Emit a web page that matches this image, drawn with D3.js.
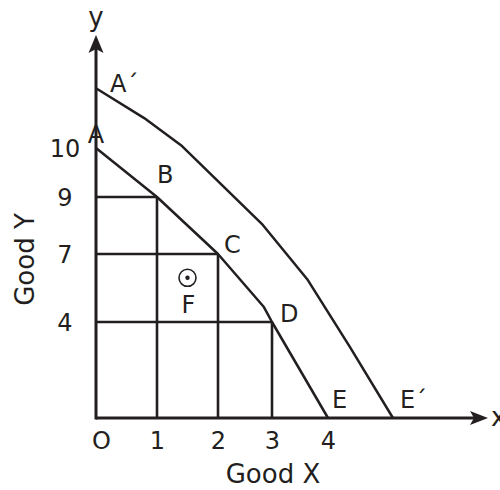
<!DOCTYPE html>
<html>
<head>
<meta charset="utf-8">
<script src="https://cdn.jsdelivr.net/npm/d3@7"></script>
<style>
  body { margin: 0; background: #fff; }
  svg { display: block; }
  text { font-family: "DejaVu Sans", sans-serif; fill: #231f20; }
</style>
</head>
<body>
<div id="chart"></div>
<script>
// ---- data ----
const xTicks = [0, 1, 2, 3, 4];
const xTickLabels = ["O", "1", "2", "3", "4"];
const yTicks = [4, 7, 9, 10];
const yTickLabels = ["4", "7", "9", "10"];

// labelled points on the original frontier
const ppfNames = ["A", "B", "C", "D", "E"];
const ppfX = [0, 1, 2, 3, 4];
const ppfY = [10, 9, 7, 4, 0];

// traced shape of the original frontier (incl. the bend between C and D)
const innerCurveX = [0, 1, 2, 2.85, 3, 4];
const innerCurveY = [10, 9, 7, 4.66, 4, 0];

// traced shape of the shifted frontier A'..E'
const outerCurveX = [0, 0.79, 1.41, 2.83, 3.64, 4.39, 5.16];
const outerCurveY = [11.22, 10.61, 10.04, 8.02, 5.85, 2.96, 0];
const outerNames = ["A\u00B4", "E\u00B4"];

// inefficient point F
const pointF = { name: "F", x: 1.5, y: 5.95 };

// ---- layout ----
const W = 500, H = 490;
const ink = "#231f20";

const svg = d3.select("#chart").append("svg")
  .attr("width", W).attr("height", H);

// schematic (piecewise) scales, as in the original drawing
const x = d3.scaleLinear().domain([0, 1, 2, 3, 4]).range([96, 157, 218, 272, 328]);
const y = d3.scaleLinear().domain([0, 4, 7, 9, 10]).range([418, 322, 254, 197, 148]);

const x0 = x(0), y0 = y(0);
const xAxisEnd = 488, yAxisEnd = 35;

// drop lines (boxes) from B, C, D
const drops = ppfX.map((d, i) => ({ x: d, y: ppfY[i] })).filter(d => d.x > 0 && d.y > 0);
const g = svg.append("g");
drops.forEach(d => {
  g.append("line")
    .attr("x1", x(0)).attr("x2", x(d.x))
    .attr("y1", y(d.y)).attr("y2", y(d.y))
    .attr("stroke", ink).attr("stroke-width", 2.6);
  g.append("line")
    .attr("x1", x(d.x)).attr("x2", x(d.x))
    .attr("y1", y(0)).attr("y2", y(d.y))
    .attr("stroke", ink).attr("stroke-width", 2.6);
});

// frontiers
const line = d3.line().x(d => x(d[0])).y(d => y(d[1])).curve(d3.curveLinear);
svg.append("path")
  .datum(innerCurveX.map((v, i) => [v, innerCurveY[i]]))
  .attr("d", line).attr("fill", "none").attr("stroke", ink)
  .attr("stroke-width", 2.5).attr("stroke-linejoin", "round");
svg.append("path")
  .datum(outerCurveX.map((v, i) => [v, outerCurveY[i]]))
  .attr("d", line).attr("fill", "none").attr("stroke", ink)
  .attr("stroke-width", 2.5).attr("stroke-linejoin", "round");

// axes lines
svg.append("line").attr("x1", x0).attr("x2", xAxisEnd - 8).attr("y1", y0).attr("y2", y0)
  .attr("stroke", ink).attr("stroke-width", 3);
svg.append("line").attr("x1", x0).attr("x2", x0).attr("y1", y0 + 1.5).attr("y2", yAxisEnd + 8)
  .attr("stroke", ink).attr("stroke-width", 3);
// arrowheads
svg.append("path")
  .attr("d", `M${xAxisEnd},${y0} L${xAxisEnd - 18},${y0 - 7} L${xAxisEnd - 14},${y0} L${xAxisEnd - 18},${y0 + 7} Z`)
  .attr("fill", ink);
svg.append("path")
  .attr("d", `M${x0},${yAxisEnd} L${x0 - 7.5},${yAxisEnd + 18} L${x0},${yAxisEnd + 14} L${x0 + 7.5},${yAxisEnd + 18} Z`)
  .attr("fill", ink);

// tick labels via d3 axes (no tick marks, no domain)
const xAxis = d3.axisBottom(x).tickValues(xTicks)
  .tickFormat((d, i) => xTickLabels[i]).tickSize(0).tickPadding(0);
const gx = svg.append("g").attr("transform", `translate(0,${y0})`).call(xAxis);
gx.select(".domain").remove();
gx.selectAll("text")
  .attr("y", 31).attr("dy", null)
  .attr("x", d => d === 0 ? 5 : 0)
  .style("font-size", "24px").style("font-family", "'DejaVu Sans', sans-serif")
  .attr("fill", ink);

const yAxis = d3.axisLeft(y).tickValues(yTicks)
  .tickFormat((d, i) => yTickLabels[i]).tickSize(0).tickPadding(0);
const gy = svg.append("g").attr("transform", `translate(${x0},0)`).call(yAxis);
gy.select(".domain").remove();
gy.selectAll("text")
  .attr("x", -31).attr("dy", "0.36em")
  .attr("text-anchor", "middle")
  .style("font-size", "24px").style("font-family", "'DejaVu Sans', sans-serif")
  .attr("fill", ink);

// axis letters
svg.append("text").attr("x", x0).attr("y", 26).attr("text-anchor", "middle")
  .style("font-size", "26px").text("y");
svg.append("text").attr("x", xAxisEnd + 3).attr("y", y0 + 8)
  .style("font-size", "26px").text("x");

// axis titles
svg.append("text").attr("x", (x(2) + x(3)) / 2 + 28).attr("y", 483).attr("text-anchor", "middle")
  .style("font-size", "26px").text("Good X");
svg.append("text")
  .attr("transform", `translate(34,${(y(4) + y(9)) / 2 + 0}) rotate(-90)`)
  .attr("text-anchor", "middle")
  .style("font-size", "26px").text("Good Y");

// point labels on the original frontier
const ppfOffsets = { A: [0, -5, "middle"], B: [0, -14, "start"], C: [6, -1, "start"], D: [8, 0, "start"], E: [4, -10, "start"] };
ppfNames.forEach((n, i) => {
  const o = ppfOffsets[n];
  svg.append("text")
    .attr("x", x(ppfX[i]) + o[0]).attr("y", y(ppfY[i]) + o[1])
    .attr("text-anchor", o[2])
    .style("font-size", "24px").text(n);
});

// labels on the shifted frontier
const oLast = outerCurveX.length - 1;
svg.append("text")
  .attr("x", x(outerCurveX[0]) + 14).attr("y", y(outerCurveY[0]) + 4)
  .style("font-size", "24px").text(outerNames[0]);
svg.append("text")
  .attr("x", x(outerCurveX[oLast]) + 7).attr("y", y(outerCurveY[oLast]) - 10)
  .style("font-size", "24px").text(outerNames[1]);

// point F
svg.append("circle").attr("cx", x(pointF.x)).attr("cy", y(pointF.y)).attr("r", 8.5)
  .attr("fill", "none").attr("stroke", ink).attr("stroke-width", 1.6);
svg.append("circle").attr("cx", x(pointF.x)).attr("cy", y(pointF.y)).attr("r", 2.2)
  .attr("fill", ink);
svg.append("text").attr("x", x(pointF.x) + 1).attr("y", y(pointF.y) + 35)
  .attr("text-anchor", "middle").style("font-size", "24px").text(pointF.name);
</script>
</body>
</html>
